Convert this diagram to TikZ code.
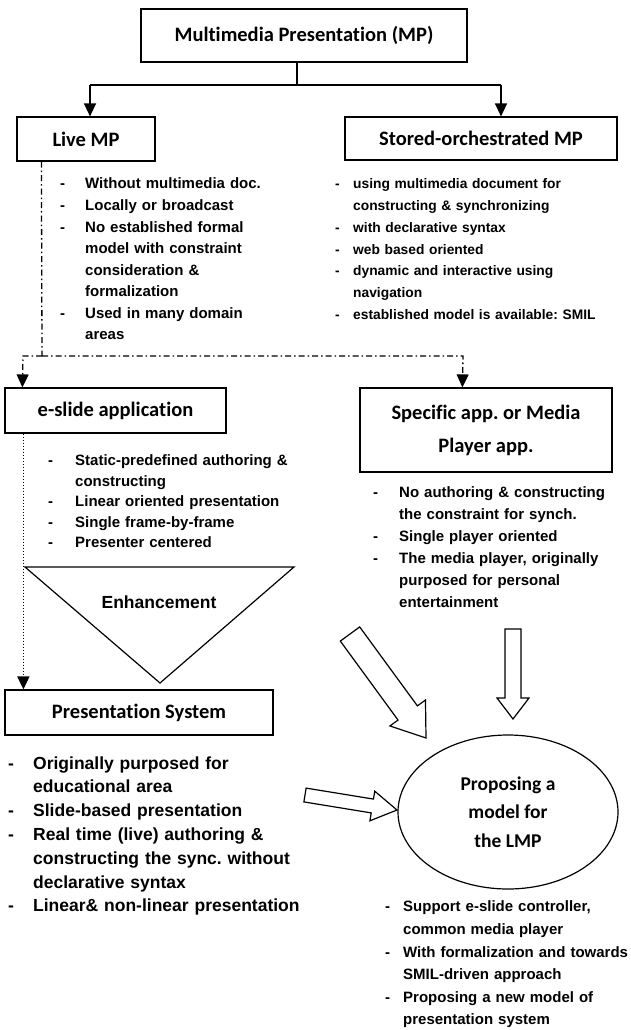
\documentclass[tikz,border=0pt]{standalone}
\usepackage{fontspec}
\newfontfamily\arfont{Liberation Sans}
\newfontfamily\calfont{Carlito}[Ligatures=NoCommon]
\usetikzlibrary{arrows.meta,calc,shapes.geometric}
\frenchspacing
\newcommand\itm[2]{\par\noindent\hangindent=#1\hangafter=1\makebox[#1][l]{-}#2}
\tikzset{
  box/.style={draw, line width=1.2pt, inner sep=0pt},
  ttl/.style={font=\calfont\bfseries\fontsize{20.5}{24}\selectfont},
  lst/.style={anchor=north west, inner sep=0pt, text width=300pt, align=left},
  tipT/.style={-{Triangle[length=13pt,width=12pt]}},
  conn/.style={line width=1.3pt},
  dashdot/.style={line width=1.3pt, dash pattern=on 6pt off 3pt on 1.5pt off 3pt},
  dots/.style={line width=1.6pt, dash pattern=on 1.6pt off 1.4pt},
  blk/.style={draw, line width=1.2pt, fill=white, line join=miter},
}
\begin{document}
\begin{tikzpicture}[x=1pt,y=-1pt]
\path[use as bounding box] (0,0) rectangle (630,1030);

% boxes
\node[box, ttl, minimum width=326pt, minimum height=53pt] (mp) at (304,35.5) {Multimedia Presentation (MP)};
\node[box, ttl, minimum width=138pt, minimum height=44pt] (live) at (86,139) {Live MP};
\node[box, ttl, minimum width=272pt, minimum height=43pt] (stored) at (481,138.5) {Stored-orchestrated MP};
\node[box, ttl, minimum width=221pt, minimum height=45pt] (eslide) at (115.5,410.5) {e-slide application};
\node[box, ttl, minimum width=252pt, minimum height=84pt, align=center, font=\calfont\bfseries\fontsize{20.5}{33}\selectfont] (spec) at (486,430) {Specific app. or Media\\Player app.};
\node[box, ttl, minimum width=268pt, minimum height=45pt] (ps) at (139,712.5) {Presentation System};
\node[draw, line width=1.2pt, ellipse, minimum width=220pt, minimum height=154pt, inner sep=0pt, align=center, font=\calfont\bfseries\fontsize{19.5}{28.5}\selectfont] (lmp) at (508,812) {Proposing a\\model for\\the LMP};

% top connectors
\coordinate (vt) at ($(mp.south)+(-7,0)$);
\coordinate (hl) at (90,85);
\coordinate (hr) at (501,85);
\draw[conn] (vt) -- (vt |- hl);
\draw[conn] (hl) -- (hr);
\draw[conn, tipT] (hl) -- (hl |- live.north);
\draw[conn, tipT] (hr) -- (hr |- stored.north);

% lists
\node[lst, font=\arfont\bfseries\fontsize{15}{21.6}\selectfont] (livelist) at (60,167) {%
\itm{25pt}{\rule{0pt}{12pt}Without multimedia doc.}
\itm{25pt}{Locally or broadcast}
\itm{25pt}{No established formal\newline model with constraint\newline consideration \&\newline formalization}
\itm{25pt}{Used in many domain\newline areas}\par};

\node[lst, font=\arfont\bfseries\fontsize{13.8}{21.7}\selectfont] (storedlist) at (335,167) {%
\itm{18pt}{\rule{0pt}{12pt}using multimedia document for\newline constructing \& synchronizing}
\itm{18pt}{with declarative syntax}
\itm{18pt}{web based oriented}
\itm{18pt}{dynamic and interactive using\newline navigation}
\itm{18pt}{established model is available: SMIL}\par};

\node[lst, font=\arfont\bfseries\fontsize{15}{20.5}\selectfont] (eslidelist) at (48,445) {%
\itm{27pt}{\rule{0pt}{12pt}Static-predefined authoring \&\newline constructing}
\itm{27pt}{Linear oriented presentation}
\itm{27pt}{Single frame-by-frame}
\itm{27pt}{Presenter centered}\par};

\node[lst, font=\arfont\bfseries\fontsize{15}{22}\selectfont] (speclist) at (373,475) {%
\itm{26pt}{\rule{0pt}{12pt}No authoring \& constructing\newline the constraint for synch.}
\itm{26pt}{Single player oriented}
\itm{26pt}{The media player, originally\newline purposed for personal\newline entertainment}\par};

\node[lst, font=\arfont\bfseries\fontsize{17.5}{23.8}\selectfont] (pslist) at (8,745) {%
\itm{25pt}{\rule{0pt}{14pt}Originally purposed for\newline educational area}
\itm{25pt}{Slide-based presentation}
\itm{25pt}{Real time (live) authoring \&\newline constructing the sync. without\newline declarative syntax}
\itm{25pt}{Linear\& non-linear presentation}\par};

\node[lst, font=\arfont\bfseries\fontsize{15}{22.6}\selectfont] (lmplist) at (385,889) {%
\itm{18pt}{\rule{0pt}{12pt}Support e-slide controller,\newline common media player}
\itm{18pt}{With formalization and towards\newline SMIL-driven approach}
\itm{18pt}{Proposing a new model of\newline presentation system}\par};

% dash-dot connectors
\coordinate (jd) at (42,356);
\draw[dashdot] ($(live.south west)+(25,0)$) -- (jd);
\draw[dashdot, tipT] (jd) -- (23,356) -- ($(eslide.north west)+(18,0)$);
\draw[dashdot, tipT] (jd) -- (463,356) -- ($(spec.north west)+(103,0)$);

% dotted connector
\draw[dots, tipT] ($(eslide.south west)+(19,0)$) -- ($(ps.north west)+(19,0)$);

% enhancement triangle
\draw[line width=1.2pt, line join=miter] (25,567) -- (294,567) -- (160,683) -- cycle;
\node[font=\arfont\bfseries\fontsize{17.5}{20}\selectfont, inner sep=0pt] (enh) at (159,602) {Enhancement};

% block arrows
\newcommand\blockarrow[5]{% tail, tip, shaft half, head half, head length
  \coordinate (bT) at #1; \coordinate (bP) at #2;
  \coordinate (bB) at ($(bP)!#5!(bT)$);
  \draw[blk] ($(bT)!#3!90:(bP)$) -- ($(bB)!#3!-90:(bT)$) -- ($(bB)!#4!-90:(bT)$) -- (bP)
    -- ($(bB)!#4!90:(bT)$) -- ($(bB)!#3!90:(bT)$) -- ($(bT)!#3!-90:(bP)$) -- cycle;}
\blockarrow{(350,634)}{(426,738)}{12pt}{22pt}{31pt}
\blockarrow{(513,629)}{(513,719)}{8pt}{16pt}{21pt}
\blockarrow{(305,795)}{(397,810)}{7pt}{15pt}{25pt}
\end{tikzpicture}
\end{document}
